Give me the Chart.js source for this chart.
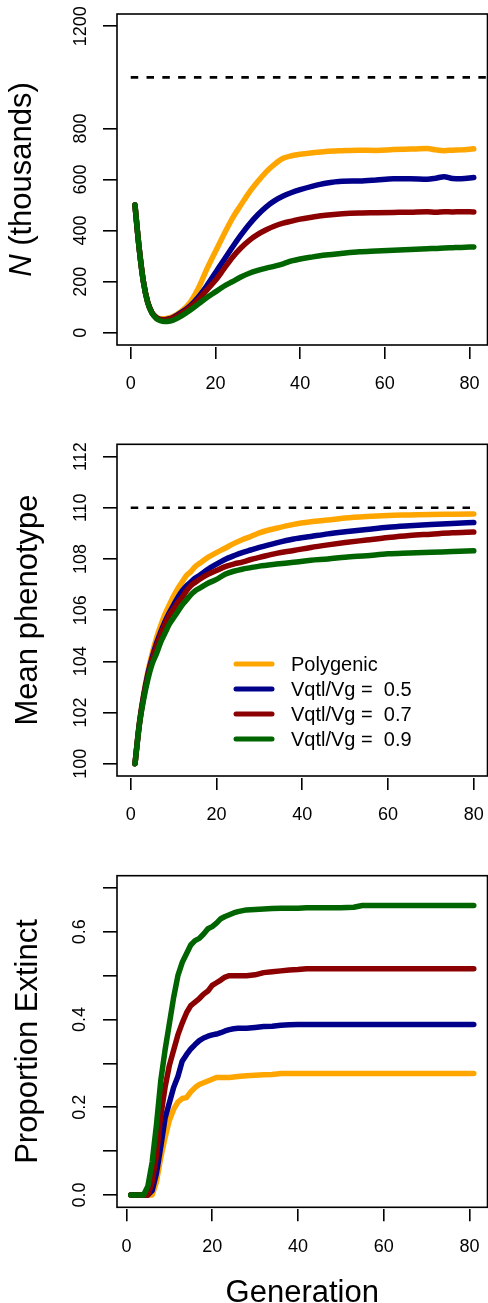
<!DOCTYPE html>
<html>
<head>
<meta charset="utf-8">
<script src="https://cdn.jsdelivr.net/npm/chart.js@4.4.0/dist/chart.umd.min.js"></script>
<style>
  body { margin: 0; background: #fff; }
  canvas { position: absolute; left: 0; }
</style>
</head>
<body>
<canvas id="popChart" width="488" height="420" style="top:0"></canvas>
<canvas id="phenoChart" width="488" height="420" style="top:420px"></canvas>
<canvas id="extinctChart" width="488" height="463" style="top:840px"></canvas>
<script>
// series shared by all three panels
const seriesLabels = ['Polygenic', 'Vqtl/Vg =  0.5', 'Vqtl/Vg =  0.7', 'Vqtl/Vg =  0.9'];
const seriesColors = ['#FFA500', '#00008B', '#8B0000', '#006400'];

const xTicks = [0, 20, 40, 60, 80];

// panel 1: population size (thousands)
const genN = [1, 2, 3, 4, 5, 6, 7, 8, 9, 10, 12, 14, 16, 18, 20, 22, 24, 26, 28, 30, 32, 34, 36, 38, 40, 43, 46, 50, 54, 58, 62, 66, 70, 72, 74, 76, 78, 81];
const nPoly = [500, 330, 200, 120, 80, 62, 55, 55, 58, 64, 85, 118, 175, 250, 318, 385, 448, 500, 550, 592, 630, 660, 683, 693, 699, 705, 710, 713, 715, 714, 717, 719, 721, 716, 713, 715, 716, 720];
const nV05 = [500, 330, 200, 120, 79, 60, 52, 51, 54, 60, 80, 105, 140, 185, 235, 285, 335, 382, 425, 462, 493, 517, 535, 549, 560, 574, 585, 593, 594, 598, 603, 603, 601, 605, 611, 604, 603, 608];
const nV07 = [500, 330, 200, 120, 79, 59, 51, 50, 53, 58, 76, 100, 130, 168, 205, 250, 295, 332, 362, 385, 403, 418, 429, 437, 445, 453, 460, 466, 469, 470, 471, 472, 474, 472, 474, 473, 474, 473];
const nV09 = [500, 330, 198, 118, 77, 56, 47, 44, 45, 49, 66, 88, 113, 138, 160, 182, 200, 218, 233, 244, 253, 261, 270, 281, 289, 297, 304, 311, 317, 320, 323, 326, 329, 330, 332, 333, 334, 336];
const nTicks = [0, 200, 400, 600, 800, 1200];
const nCapacity = 1000;
const nCapacityGens = [0, 86];

// panel 2: mean phenotype
const genPh = [1, 2, 3, 4, 5, 6, 7, 8, 9, 10, 11, 12, 13, 14, 15, 16, 18, 20, 22, 24, 26, 28, 30, 34, 38, 42, 46, 50, 55, 60, 65, 70, 75, 80];
const phPoly = [100, 101.6, 102.7, 103.6, 104.3, 104.9, 105.4, 105.85, 106.2, 106.55, 106.85, 107.1, 107.35, 107.5, 107.7, 107.82, 108.06, 108.25, 108.42, 108.6, 108.75, 108.88, 109.02, 109.2, 109.35, 109.45, 109.52, 109.6, 109.66, 109.7, 109.72, 109.74, 109.75, 109.76];
const phV05 = [100, 101.55, 102.65, 103.5, 104.15, 104.7, 105.15, 105.55, 105.9, 106.2, 106.5, 106.75, 106.95, 107.1, 107.25, 107.35, 107.6, 107.8, 107.98, 108.12, 108.25, 108.35, 108.45, 108.63, 108.78, 108.88, 108.98, 109.06, 109.15, 109.24, 109.3, 109.35, 109.39, 109.42];
const phV07 = [100, 101.5, 102.6, 103.4, 104.05, 104.6, 105.05, 105.45, 105.8, 106.05, 106.3, 106.5, 106.75, 106.95, 107.08, 107.2, 107.4, 107.55, 107.7, 107.8, 107.88, 107.98, 108.06, 108.22, 108.33, 108.45, 108.55, 108.64, 108.74, 108.84, 108.92, 108.97, 109.02, 109.05];
const phV09 = [100, 101.5, 102.5, 103.3, 103.9, 104.3, 104.75, 105.1, 105.45, 105.7, 105.95, 106.2, 106.4, 106.6, 106.75, 106.85, 107.05, 107.2, 107.4, 107.52, 107.6, 107.66, 107.72, 107.8, 107.87, 107.95, 108.0, 108.07, 108.13, 108.2, 108.23, 108.26, 108.29, 108.32];
const phTicks = [100, 102, 104, 106, 108, 110, 112];
const phOptimum = 110;
const phOptimumGens = [0, 80];

// panel 3: proportion extinct
const genEx = [1, 2, 3, 4, 5, 6, 7, 8, 9, 10, 11, 12, 13, 14, 15, 16, 17, 18, 19, 20, 21, 22, 23, 24, 25, 26, 28, 30, 32, 34, 36, 38, 40, 42, 45, 50, 53, 55, 60, 65, 70, 75, 81];
const exPoly = [0, 0, 0, 0, 0, 0, 0.03, 0.085, 0.13, 0.17, 0.195, 0.212, 0.22, 0.222, 0.235, 0.245, 0.252, 0.256, 0.26, 0.264, 0.268, 0.268, 0.268, 0.268, 0.269, 0.27, 0.272, 0.273, 0.274, 0.275, 0.277, 0.277, 0.277, 0.277, 0.277, 0.277, 0.277, 0.277, 0.277, 0.277, 0.277, 0.277, 0.277];
const exV05 = [0, 0, 0, 0, 0, 0.01, 0.05, 0.11, 0.175, 0.21, 0.245, 0.27, 0.305, 0.32, 0.333, 0.343, 0.352, 0.358, 0.362, 0.365, 0.367, 0.37, 0.374, 0.377, 0.379, 0.38, 0.38, 0.382, 0.384, 0.385, 0.387, 0.388, 0.389, 0.389, 0.389, 0.389, 0.389, 0.389, 0.389, 0.389, 0.389, 0.389, 0.389];
const exV07 = [0, 0, 0, 0, 0, 0.03, 0.09, 0.18, 0.245, 0.295, 0.33, 0.365, 0.392, 0.415, 0.432, 0.44, 0.448, 0.458, 0.465, 0.478, 0.484, 0.49, 0.497, 0.5, 0.5, 0.5, 0.5, 0.502, 0.507, 0.509, 0.511, 0.513, 0.514, 0.516, 0.516, 0.516, 0.516, 0.516, 0.516, 0.516, 0.516, 0.516, 0.516];
const exV09 = [0, 0, 0, 0, 0.02, 0.075, 0.16, 0.26, 0.33, 0.39, 0.45, 0.5, 0.53, 0.55, 0.57, 0.58, 0.585, 0.595, 0.607, 0.612, 0.62, 0.63, 0.635, 0.639, 0.643, 0.646, 0.65, 0.651, 0.652, 0.653, 0.654, 0.654, 0.654, 0.655, 0.655, 0.655, 0.656, 0.66, 0.66, 0.66, 0.66, 0.66, 0.66];
const exTicks = [0, 0.1, 0.2, 0.3, 0.4, 0.5, 0.6, 0.7];
const exTickLabels = ['0.0', '', '0.2', '', '0.4', '', '0.6', ''];

const FAMILY = '"Liberation Sans", Arial, Helvetica, sans-serif';
Chart.defaults.font.family = FAMILY;
Chart.defaults.color = '#000';

function zeroPad(s) {
  s.paddingLeft = 0; s.paddingRight = 0; s.paddingTop = 0; s.paddingBottom = 0;
}

// draws the box round the plot region plus axis titles and (optional) legend
function decorations(p) {
  return {
    id: 'decor',
    afterDraw(chart) {
      const ctx = chart.ctx;
      const a = chart.chartArea;
      ctx.save();
      ctx.strokeStyle = '#000';
      ctx.lineWidth = 1.6;
      ctx.strokeRect(a.left, a.top, a.right - a.left, a.bottom - a.top);

      // y title, rotated
      ctx.translate(p.yTitleX, p.yTitleY);
      ctx.rotate(-Math.PI / 2);
      ctx.fillStyle = '#000';
      ctx.textBaseline = 'alphabetic';
      ctx.textAlign = 'left';
      const fonts = p.yTitle.map(t => (t.italic ? 'italic ' : '') + '31px ' + FAMILY);
      let total = 0;
      p.yTitle.forEach((t, i) => { ctx.font = fonts[i]; total += ctx.measureText(t.text).width; });
      let cx = -total / 2;
      p.yTitle.forEach((t, i) => {
        ctx.font = fonts[i];
        ctx.fillText(t.text, cx, 0);
        cx += ctx.measureText(t.text).width;
      });
      ctx.restore();

      if (p.xTitle) {
        ctx.save();
        ctx.font = '31px ' + FAMILY;
        ctx.fillStyle = '#000';
        ctx.textAlign = 'center';
        ctx.textBaseline = 'alphabetic';
        ctx.fillText(p.xTitle, (a.left + a.right) / 2, p.xTitleY);
        ctx.restore();
      }

      if (p.legend) {
        ctx.save();
        ctx.font = '20px ' + FAMILY;
        ctx.textBaseline = 'alphabetic';
        ctx.textAlign = 'left';
        ctx.lineCap = 'round';
        ctx.lineWidth = 5;
        seriesLabels.forEach((lab, i) => {
          const y = p.legend.top + i * p.legend.step;
          ctx.strokeStyle = seriesColors[i];
          ctx.beginPath();
          ctx.moveTo(p.legend.x1, y);
          ctx.lineTo(p.legend.x2, y);
          ctx.stroke();
          ctx.fillStyle = '#000';
          ctx.fillText(lab, p.legend.tx, y + 7);
        });
        ctx.restore();
      }
    }
  };
}

function makeChart(id, p) {
  const datasets = p.series.map((vals, i) => ({
    label: seriesLabels[i],
    data: p.gens.map((g, j) => ({ x: g, y: vals[j] })),
    borderColor: seriesColors[i],
    borderWidth: 5.5,
    borderCapStyle: 'round',
    borderJoinStyle: 'round',
    pointRadius: 0,
    cubicInterpolationMode: p.smooth ? 'monotone' : 'default',
    tension: 0,
    order: 4 - i
  }));
  if (p.ref !== undefined) {
    datasets.push({
      label: 'ref',
      data: p.refGens.map(g => ({ x: g, y: p.ref })),
      borderColor: '#000',
      borderWidth: 2.6,
      borderDash: [7.5, 8.3],
      pointRadius: 0,
      order: 5
    });
  }

  return new Chart(document.getElementById(id), {
    type: 'line',
    data: { datasets },
    options: {
      responsive: false,
      animation: false,
      devicePixelRatio: 1,
      layout: { padding: { top: p.top, left: 0, right: 0.5, bottom: 0 } },
      plugins: { legend: { display: false }, tooltip: { enabled: false } },
      scales: {
        x: {
          type: 'linear',
          min: p.xMin,
          max: p.xMax,
          afterBuildTicks: s => { s.ticks = xTicks.map(v => ({ value: v })); },
          afterFit: s => { s.height = p.xHeight; zeroPad(s); },
          grid: { drawOnChartArea: false, drawTicks: true, tickLength: 14, color: '#000', lineWidth: 1.6 },
          border: { display: true, color: 'rgba(0,0,0,0)', width: 4 },
          ticks: { autoSkip: false, maxRotation: 0, padding: 14.5, font: { size: 18 }, color: '#000',
                   callback: v => String(v) }
        },
        y: {
          type: 'linear',
          min: p.yMin,
          max: p.yMax,
          afterBuildTicks: s => { s.ticks = p.yTicks.map(v => ({ value: v })); },
          afterFit: s => { s.width = 117; zeroPad(s); },
          grid: { drawOnChartArea: false, drawTicks: true, tickLength: 14, color: '#000', lineWidth: 1.6 },
          border: { display: false },
          ticks: { autoSkip: false, minRotation: 90, maxRotation: 90, crossAlign: 'center',
                   padding: p.yPad, font: { size: 18 }, color: '#000',
                   callback: p.yLabel }
        }
      }
    },
    plugins: [decorations(p)]
  });
}

makeChart('popChart', {
  gens: genN, series: [nPoly, nV05, nV07, nV09], smooth: true,
  ref: nCapacity, refGens: nCapacityGens,
  xMin: -3.24, xMax: 84.24, yMin: -48, yMax: 1248, yTicks: nTicks,
  yLabel: v => String(v), yPad: 2.2,
  top: 14, xHeight: 75,
  yTitle: [{ text: 'N', italic: true }, { text: ' (thousands)' }], yTitleX: 30.7, yTitleY: 179.5
});

makeChart('phenoChart', {
  gens: genPh, series: [phPoly, phV05, phV07, phV09], smooth: true,
  ref: phOptimum, refGens: phOptimumGens,
  xMin: -3.2, xMax: 83.2, yMin: 99.52, yMax: 112.48, yTicks: phTicks,
  yLabel: v => String(v), yPad: 7.2,
  top: 24.3, xHeight: 64,
  yTitle: [{ text: 'Mean phenotype' }], yTitleX: 37.3, yTitleY: 190,
  legend: { x1: 236, x2: 272, tx: 291, top: 244, step: 25 }
});

makeChart('extinctChart', {
  gens: genEx, series: [exPoly, exV05, exV07, exV09], smooth: false,
  xMin: -2.2, xMax: 84.2, yMin: -0.028, yMax: 0.728, yTicks: exTicks,
  yLabel: (v, i) => exTickLabels[i], yPad: 10.5,
  top: 35.7, xHeight: 95.7,
  yTitle: [{ text: 'Proportion Extinct' }], yTitleX: 37.3, yTitleY: 201.5,
  xTitle: 'Generation', xTitleY: 462
});
</script>
</body>
</html>
